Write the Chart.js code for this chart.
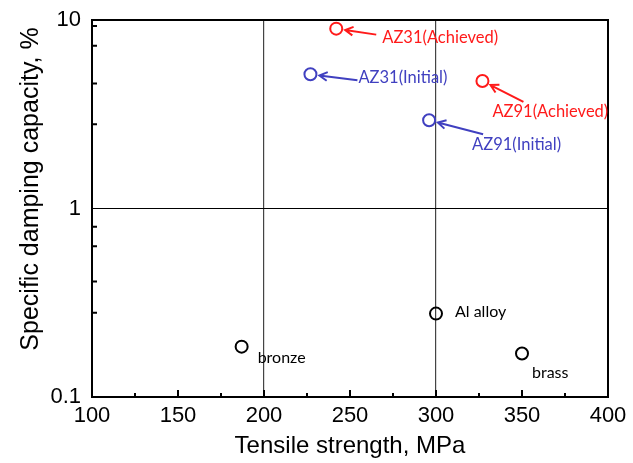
<!DOCTYPE html>
<html>
<head>
<meta charset="utf-8">
<script src="https://cdn.jsdelivr.net/npm/chart.js@4.4.1/dist/chart.umd.min.js"></script>
<style>
body { margin: 0; background: #fff; }
#wrap { width: 633px; height: 463px; }
</style>
</head>
<body>
<div id="wrap"><canvas id="dampingChart"></canvas></div>
<script>
// values
var achievedNames = ['AZ31(Achieved)', 'AZ91(Achieved)'];
var achievedStrength = [242, 327];
var achievedDamping = [9.0, 4.75];

var initialNames = ['AZ31(Initial)', 'AZ91(Initial)'];
var initialStrength = [227, 296];
var initialDamping = [5.15, 2.94];

var otherNames = ['Al alloy', 'bronze', 'brass'];
var otherStrength = [300, 187, 350];
var otherDamping = [0.277, 0.185, 0.17];

var xTicks = [100, 150, 200, 250, 300, 350, 400];
var xMinorTicks = [125, 175, 225, 275, 325, 375];
var yTicks = [0.1, 1, 10];
var yMinorTicks = [9.3, 7.3, 4.6, 2.8, 0.8, 0.63, 0.41, 0.28];
var guideX = [200, 300];
var guideY = [1];
var yTitle = 'Specific damping capacity, %';

// where each label and arrow tail sits, in pixels from its point
var labelLayout = {
    'AZ31(Achieved)': { arrow: [40, 6], text: [46, 9] },
    'AZ31(Initial)': { arrow: [47, 6], text: [48, 3] },
    'AZ91(Achieved)': { arrow: [41, 21], text: [10, 31] },
    'AZ91(Initial)': { arrow: [54, 14], text: [43, 24] },
    'Al alloy': { text: [19, -2] },
    'bronze': { text: [16, 11] },
    'brass': { text: [10, 19] }
};

function toPoints(xs, ys) {
    return xs.map(function (x, i) { return { x: x, y: ys[i] }; });
}

var labelPlugin = {
    id: 'pointLabels',
    afterDatasetsDraw: function (chart) {
        var c = chart.ctx;
        var a = chart.chartArea;
        var xs = chart.scales.x;
        var ys = chart.scales.y;
        c.save();

        // inward tick marks and the frame
        c.strokeStyle = '#000';
        c.lineWidth = 2;
        c.beginPath();
        xTicks.forEach(function (v) {
            var px = xs.getPixelForValue(v);
            c.moveTo(px, a.bottom); c.lineTo(px, a.bottom - 7);
        });
        xMinorTicks.forEach(function (v) {
            var px = xs.getPixelForValue(v);
            c.moveTo(px, a.bottom); c.lineTo(px, a.bottom - 4);
        });
        yMinorTicks.forEach(function (v) {
            var py = ys.getPixelForValue(v);
            c.moveTo(a.left, py); c.lineTo(a.left + 5, py);
        });
        c.stroke();
        c.strokeRect(a.left, a.top, a.right - a.left, a.bottom - a.top);

        // y title, sitting a bit above the middle like the original
        c.save();
        c.translate(31, 189);
        c.rotate(-Math.PI / 2);
        c.fillStyle = '#000';
        c.font = '25px "Liberation Sans"';
        c.textAlign = 'center';
        c.textBaseline = 'middle';
        c.fillText(yTitle, 0, 0);
        c.restore();

        // labels and arrows
        chart.data.datasets.forEach(function (ds, di) {
            var meta = chart.getDatasetMeta(di);
            meta.data.forEach(function (el, i) {
                var name = ds.names[i];
                var lay = labelLayout[name];
                var px = el.x, py = el.y;
                c.fillStyle = ds.borderColor;
                c.strokeStyle = ds.borderColor;
                if (lay.arrow) {
                    var tx = px + lay.arrow[0], ty = py + lay.arrow[1];
                    var ang = Math.atan2(ty - py, tx - px);
                    var hx = px + Math.cos(ang) * 9, hy = py + Math.sin(ang) * 9;
                    c.lineWidth = 2;
                    c.beginPath();
                    c.moveTo(tx, ty); c.lineTo(hx, hy);
                    c.moveTo(hx + Math.cos(ang + 0.5) * 9, hy + Math.sin(ang + 0.5) * 9);
                    c.lineTo(hx, hy);
                    c.lineTo(hx + Math.cos(ang - 0.5) * 9, hy + Math.sin(ang - 0.5) * 9);
                    c.stroke();
                    c.font = '16.5px Lato';
                } else {
                    c.font = '16px Lato';
                }
                c.textAlign = 'left';
                c.textBaseline = 'middle';
                c.fillText(name, px + lay.text[0], py + lay.text[1]);
            });
        });
        c.restore();
    }
};

var ctx = document.getElementById('dampingChart').getContext('2d');

var myChart = new Chart(ctx, {
    type: 'scatter',
    data: {
        datasets: [{
            label: 'Achieved',
            names: achievedNames,
            data: toPoints(achievedStrength, achievedDamping),
            borderColor: '#ff1a1a'
        }, {
            label: 'Initial',
            names: initialNames,
            data: toPoints(initialStrength, initialDamping),
            borderColor: '#4040c0'
        }, {
            label: 'Other',
            names: otherNames,
            data: toPoints(otherStrength, otherDamping),
            borderColor: '#000000'
        }]
    },
    options: {
        responsive: true,
        maintainAspectRatio: false,
        animation: false,
        layout: { padding: { top: 20, right: 25, left: 0, bottom: 0 } },
        elements: {
            point: { radius: 6, borderWidth: 2, backgroundColor: 'rgba(0,0,0,0)', hoverRadius: 6 }
        },
        plugins: {
            legend: { display: false },
            tooltip: { enabled: false }
        },
        scales: {
            x: {
                type: 'linear',
                min: 100,
                max: 400,
                afterBuildTicks: function (scale) {
                    scale.ticks = xTicks.map(function (v) { return { value: v }; });
                },
                afterFit: function (scale) {
                    scale.height = 66;
                    scale.paddingLeft = 0;
                    scale.paddingRight = 0;
                },
                ticks: {
                    autoSkip: false,
                    maxRotation: 0,
                    padding: 6,
                    color: '#000',
                    font: { family: 'Liberation Sans', size: 22 }
                },
                grid: {
                    drawTicks: false,
                    color: function (c) {
                        return c.tick && guideX.indexOf(c.tick.value) >= 0 ? '#444' : 'rgba(0,0,0,0)';
                    },
                    lineWidth: 1.2
                },
                border: { display: false },
                title: {
                    display: true,
                    text: 'Tensile strength, MPa',
                    color: '#000',
                    font: { family: 'Liberation Sans', size: 24 },
                    padding: { top: 0, bottom: 2 }
                }
            },
            y: {
                type: 'logarithmic',
                min: 0.1,
                max: 10,
                afterBuildTicks: function (scale) {
                    scale.ticks = yTicks.map(function (v) { return { value: v }; });
                },
                afterFit: function (scale) {
                    scale.width = 92;
                    scale.paddingTop = 0;
                    scale.paddingBottom = 0;
                },
                ticks: {
                    padding: 11,
                    color: '#000',
                    font: { family: 'Liberation Sans', size: 22 },
                    callback: function (v) { return String(v); }
                },
                grid: {
                    drawTicks: false,
                    color: function (c) {
                        return c.tick && guideY.indexOf(c.tick.value) >= 0 ? '#000' : 'rgba(0,0,0,0)';
                    },
                    lineWidth: 1
                },
                border: { display: false },
                title: { display: false }
            }
        }
    },
    plugins: [labelPlugin]
});
</script>
</body>
</html>
